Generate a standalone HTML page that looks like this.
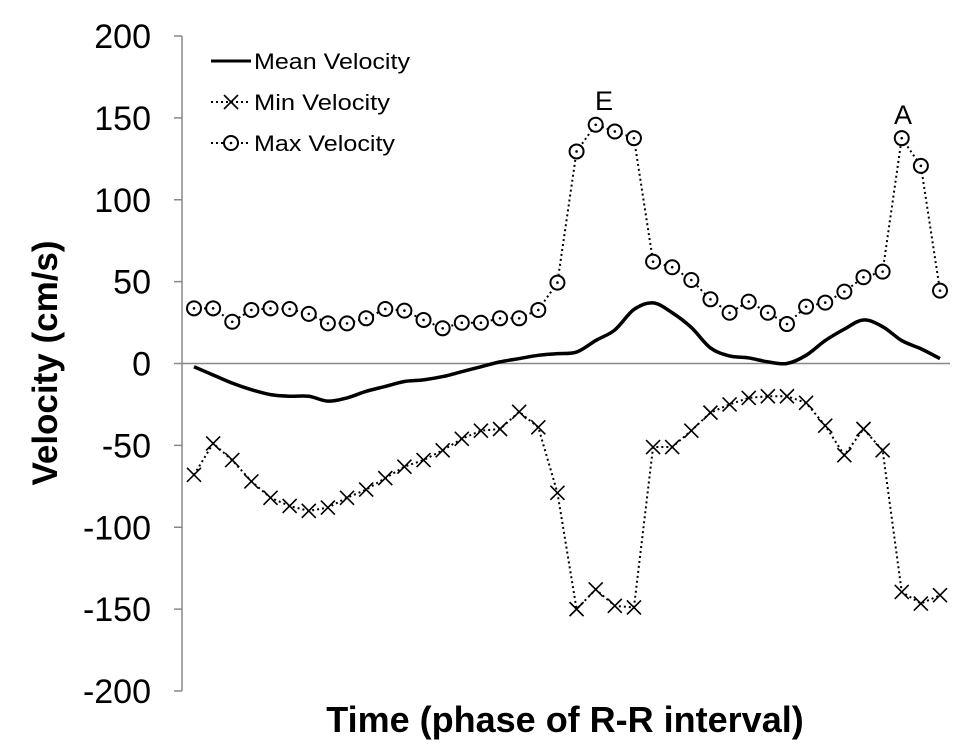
<!DOCTYPE html>
<html><head><meta charset="utf-8"><style>
html,body{margin:0;padding:0;background:#fff}
svg{display:block;font-family:"Liberation Sans",sans-serif}
</style></head><body>
<svg id="chart" width="975" height="747" viewBox="0 0 975 747">
<g id="axes"></g>
<g id="series"></g>
<text transform="translate(57,363) rotate(-90)" text-anchor="middle" font-size="35" font-weight="bold">Velocity (cm/s)</text>
<text x="565" y="732" text-anchor="middle" font-size="36" font-weight="bold">Time (phase of R-R interval)</text>
<text x="604" y="110" text-anchor="middle" font-size="27">E</text>
<text x="903" y="124" text-anchor="middle" font-size="27">A</text>
<g>
 <line x1="211" y1="61" x2="251" y2="61" stroke="#000" stroke-width="3"/>
 <text x="254" y="69" font-size="22" textLength="156" lengthAdjust="spacingAndGlyphs">Mean Velocity</text>
 <line x1="211" y1="102" x2="251" y2="102" stroke="#000" stroke-width="2" stroke-dasharray="2,3"/>
 <path d="M224,95 L238,109 M238,95 L224,109" stroke="#000" stroke-width="1.6"/>
 <text x="254" y="110" font-size="22" textLength="136" lengthAdjust="spacingAndGlyphs">Min Velocity</text>
 <line x1="211" y1="143" x2="251" y2="143" stroke="#000" stroke-width="2" stroke-dasharray="2,3"/>
 <circle cx="231" cy="143" r="7" fill="#fff" stroke="#000" stroke-width="2"/>
 <circle cx="231" cy="143" r="1.3" fill="#000"/>
 <text x="254" y="151" font-size="22" textLength="141" lengthAdjust="spacingAndGlyphs">Max Velocity</text>
</g>
</svg>
<script>
const yTicks = [200,150,100,50,0,-50,-100,-150,-200];
const meanVel = [-2,-7,-12,-16,-19,-20,-20,-23,-21,-17,-14,-11,-10,-8,-5,-2,1,3,5,6,7,14,20.5,33,37,31,22,9.5,4.6,3.4,1,0,5,14,21,26.6,22.5,14,9,3];
const minVel = [-68,-48.8,-59,-72,-82,-87,-90,-88,-82,-77,-70,-63,-59,-53,-46,-41,-40,-29.5,-39,-79,-150,-138,-148,-149,-51,-51,-41,-30,-25,-21,-20,-20,-24,-38,-56,-40,-53,-139.5,-146.6,-141.5];
const maxVel = [33.7,33.7,25.5,32.7,33.7,33.3,30.3,24.5,24.5,27.6,33.3,32.3,26.6,21.5,24.9,24.9,27.6,27.6,32.7,49.4,129.5,145.8,141.7,137.6,62.2,58.8,51,39.2,31,37.8,31,24.1,34.7,37.2,43.9,52.7,56.1,137.6,120.7,44.5];

const NS='http://www.w3.org/2000/svg';
const yTop=36, yBot=691, yMax=200, yMin=-200;
function yPos(v){return yTop+(yMax-v)/(yMax-yMin)*(yBot-yTop);}
const x0=194, x1=940;
function xPos(i){return x0+i*(x1-x0)/(meanVel.length-1);}
function mk(tag,attrs,parent){const e=document.createElementNS(NS,tag);for(const k in attrs)e.setAttribute(k,attrs[k]);parent.appendChild(e);return e;}

const axes=document.getElementById('axes');
let el=mk('line',{x1:182,y1:yTop,x2:182,y2:yBot,stroke:'#888','stroke-width':1.5},axes);


el=mk('line',{x1:182,y1:yPos(0),x2:950,y2:yPos(0),stroke:'#888','stroke-width':1.5},axes);


yTicks.forEach(t=>{
  const tk=mk('line',{x1:174,y1:yPos(t),x2:182,y2:yPos(t),stroke:'#888','stroke-width':1.5},axes);
  
  
  const lb=mk('text',{x:151,y:yPos(t)+12,'text-anchor':'end','font-size':34},axes);
  lb.textContent=t;
  
  
});

const ser=document.getElementById('series');
const pts=meanVel.map((v,i)=>[xPos(i),yPos(v)]);
let d='M'+pts[0][0]+','+pts[0][1];
for(let i=0;i<pts.length-1;i++){
  const p0=pts[Math.max(0,i-1)],p1=pts[i],p2=pts[i+1],p3=pts[Math.min(pts.length-1,i+2)];
  const c1=[p1[0]+(p2[0]-p0[0])/6,p1[1]+(p2[1]-p0[1])/6];
  const c2=[p2[0]-(p3[0]-p1[0])/6,p2[1]-(p3[1]-p1[1])/6];
  d+=` C${c1[0]},${c1[1]} ${c2[0]},${c2[1]} ${p2[0]},${p2[1]}`;
}
el=mk('path',{d:d,fill:'none',stroke:'#000','stroke-width':3.5},ser);



el=mk('polyline',{points:minVel.map((v,i)=>xPos(i)+','+yPos(v)).join(' '),fill:'none',stroke:'#000','stroke-width':2,'stroke-dasharray':'2,3'},ser);


el=mk('polyline',{points:maxVel.map((v,i)=>xPos(i)+','+yPos(v)).join(' '),fill:'none',stroke:'#000','stroke-width':2,'stroke-dasharray':'2,3'},ser);



minVel.forEach((v,i)=>{
  const x=xPos(i),y=yPos(v),s=7;
  const m=mk('path',{d:`M${x-s},${y-s} L${x+s},${y+s} M${x+s},${y-s} L${x-s},${y+s}`,stroke:'#000','stroke-width':1.6},ser);
  
  
});
maxVel.forEach((v,i)=>{
  const x=xPos(i),y=yPos(v);
  const c=mk('circle',{cx:x,cy:y,r:7,fill:'#fff',stroke:'#000','stroke-width':2},ser);
  
  
  const dt=mk('circle',{cx:x,cy:y,r:1.3,fill:'#000'},ser);
  
  
});
</script>
</body></html>
